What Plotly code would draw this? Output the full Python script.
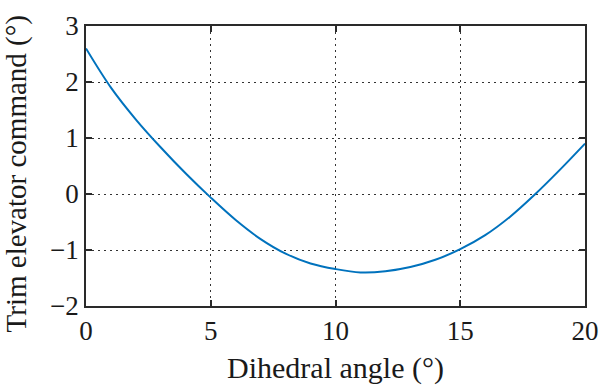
import plotly.graph_objects as go

dihedral = [0, 1, 2, 3, 4, 5, 6, 7, 8, 9, 10, 11, 12, 13, 14, 15, 16, 17, 18, 19, 20]
trim_cmd = [2.60, 1.90, 1.33, 0.83, 0.365, -0.065, -0.465, -0.805, -1.065, -1.24, -1.34,
            -1.40, -1.38, -1.305, -1.175, -0.985, -0.735, -0.405, -0.005, 0.435, 0.90]
x_ticks = [0, 5, 10, 15, 20]
y_ticks = [-2, -1, 0, 1, 2, 3]
x_title = "Dihedral angle (°)"
y_title = "Trim elevator command (°)"

font_family = "Liberation Serif"
axis_col = "#2a2a2a"
text_col = "#1a1a1a"

fig = go.Figure()
fig.add_trace(go.Scatter(x=dihedral, y=trim_cmd, mode="lines",
                         line=dict(color="#0072BD", width=2, shape="spline", smoothing=1.0),
                         showlegend=False, hoverinfo="skip"))

common = dict(showline=True, linecolor=axis_col, linewidth=1.6, mirror="ticks",
              ticks="inside", ticklen=6, tickwidth=1.6, tickcolor=axis_col,
              showgrid=True, gridcolor="#333333", gridwidth=1, griddash="2px,4px",
              zeroline=False, automargin=False,
              tickfont=dict(family=font_family, size=27, color=text_col),
              title_font=dict(family=font_family, size=30, color=text_col))

fig.update_xaxes(range=[0, 20], tickvals=x_ticks, title_text=x_title,
                 title_standoff=12, **common)
fig.update_yaxes(range=[-2, 3], tickvals=y_ticks, **common)

fig.add_annotation(text=y_title, textangle=-90, xref="paper", yref="paper",
                   x=0, y=0.47, xanchor="center", yanchor="middle", xshift=-70,
                   showarrow=False, font=dict(family=font_family, size=29, color=text_col))

fig.update_layout(width=600, height=392, margin=dict(l=86, r=15, t=26, b=86),
                  paper_bgcolor="white", plot_bgcolor="white")
fig.write_html("out.html", config={"displayModeBar": False},
               post_script="document.body.style.margin='0';")
